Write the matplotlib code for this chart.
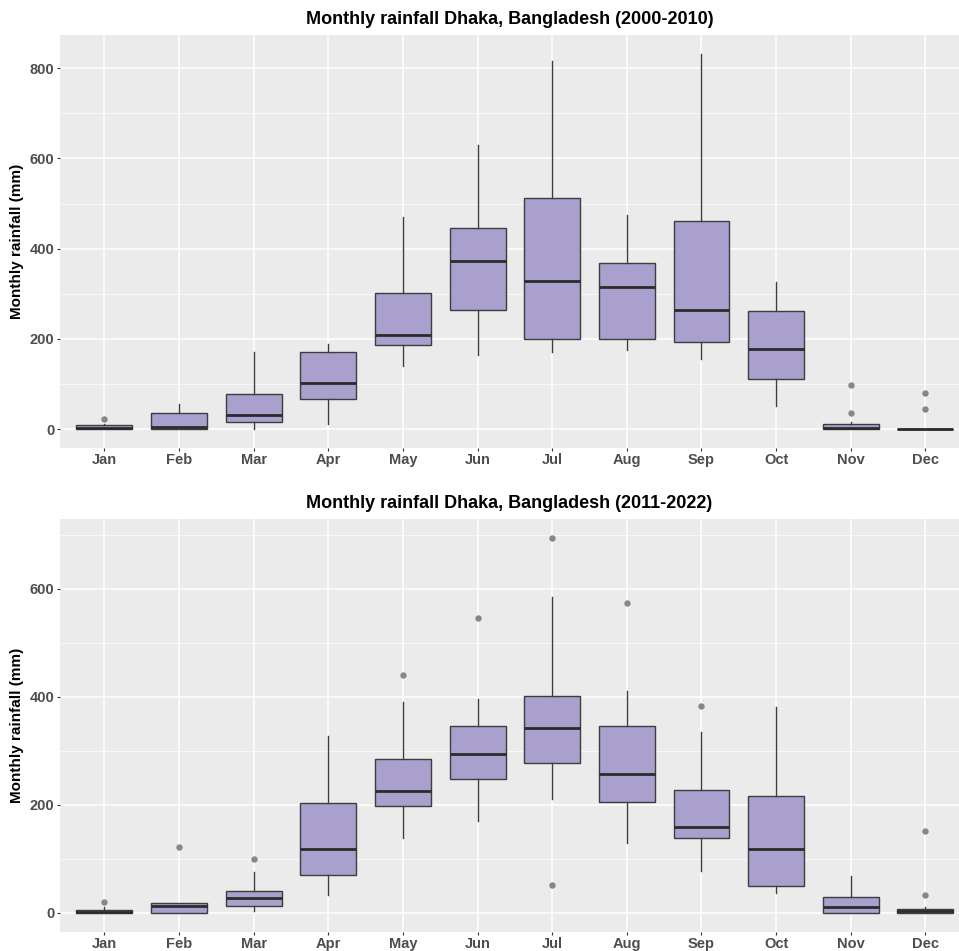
import matplotlib
matplotlib.use("Agg")
import matplotlib.pyplot as plt
from matplotlib.ticker import MultipleLocator

plt.rcParams["font.family"] = ["Liberation Sans", "DejaVu Sans"]

months = ["Jan", "Feb", "Mar", "Apr", "May", "Jun", "Jul", "Aug", "Sep", "Oct", "Nov", "Dec"]

# 2000-2010 box stats (mm)
p1_q1 = [0, 0, 16, 66, 186, 265, 199, 199, 193, 111, 0, 0]
p1_med = [1.5, 3.7, 32, 102, 209, 373, 329, 315, 264, 177, 2, 0]
p1_q3 = [8.8, 36, 78, 170, 302, 446, 512, 369, 462, 262, 12.5, 0.5]
p1_lo = [0, 0, 0, 12.5, 141, 165, 170, 175, 156, 52, 0, 0]
p1_hi = [12, 55, 172, 189, 470, 630, 816, 474, 831, 327, 16, 0.5]
p1_out = [[22], [], [], [], [], [], [], [], [], [], [98, 35], [80, 45]]

# 2011-2022 box stats (mm)
p2_q1 = [0, 0, 13, 70, 197, 247, 277, 205, 139, 49, 0, 0]
p2_med = [2, 12, 28, 119, 225, 294, 342, 257, 158.5, 118, 10, 3]
p2_q3 = [6, 18.5, 40, 203.5, 285, 346.6, 402, 345, 227, 216, 29.6, 7]
p2_lo = [0, 0, 2.5, 33, 139, 170, 211.5, 130, 76.5, 37, 0, 0]
p2_hi = [11, 18.5, 76, 328, 390, 396, 584, 411, 335.5, 381, 68, 11]
p2_out = [[20], [121], [100], [], [441], [546], [694, 51], [573.5], [383.6], [], [], [152, 33]]

FILL = "#a9a0ce"
EDGE = "#3d3d3d"
PANEL = "#ebebeb"
TICKCOL = "#4d4d4d"


def make_stats(q1, med, q3, lo, hi, out):
    stats = []
    for i in range(len(months)):
        stats.append(dict(q1=q1[i], med=med[i], q3=q3[i], whislo=lo[i], whishi=hi[i],
                          fliers=out[i], label=months[i]))
    return stats


def draw_panel(ax, stats, title, ylim, major, minor):
    ax.set_facecolor(PANEL)
    ax.bxp(stats, positions=range(1, 13), widths=0.75, patch_artist=True, showcaps=False,
           boxprops=dict(facecolor=FILL, edgecolor=EDGE, linewidth=1.0),
           medianprops=dict(color="#2b2b2b", linewidth=2.0),
           whiskerprops=dict(color=EDGE, linewidth=1.0),
           flierprops=dict(marker="o", markersize=3.6, markerfacecolor="#8c8585",
                           markeredgecolor="#8c8585"),
           zorder=3)
    ax.set_xlim(0.406, 12.45)
    ax.set_ylim(*ylim)
    ax.yaxis.set_major_locator(MultipleLocator(major))
    ax.yaxis.set_minor_locator(MultipleLocator(minor))
    ax.set_xticks(range(1, 13))
    ax.set_xticklabels(months)
    ax.grid(which="major", color="white", linewidth=1.1, zorder=0)
    ax.grid(which="minor", axis="y", color="white", linewidth=0.5, zorder=0)
    ax.set_axisbelow(True)
    for s in ax.spines.values():
        s.set_visible(False)
    ax.tick_params(axis="both", which="major", length=2.5, width=0.8, color="#333333",
                   labelcolor=TICKCOL, labelsize=10.5, pad=1.5)
    ax.tick_params(axis="both", which="minor", length=0)
    for lab in ax.get_xticklabels() + ax.get_yticklabels():
        lab.set_fontweight("bold")
    ax.set_ylabel("Monthly rainfall (mm)", fontsize=11, fontweight="bold", labelpad=4)
    ax.set_title(title, fontsize=13, fontweight="bold", pad=8)


fig = plt.figure(figsize=(9.59, 9.51), dpi=100)
ax1 = fig.add_axes([0.0626, 0.529, 0.9374, 0.4342])
ax2 = fig.add_axes([0.0626, 0.0205, 0.9374, 0.4335])

draw_panel(ax1, make_stats(p1_q1, p1_med, p1_q3, p1_lo, p1_hi, p1_out),
           "Monthly rainfall Dhaka, Bangladesh (2000-2010)", (-41.6, 873.6), 200, 100)
draw_panel(ax2, make_stats(p2_q1, p2_med, p2_q3, p2_lo, p2_hi, p2_out),
           "Monthly rainfall Dhaka, Bangladesh (2011-2022)", (-34.7, 728.7), 200, 100)

fig.savefig("out.png", dpi=100)
